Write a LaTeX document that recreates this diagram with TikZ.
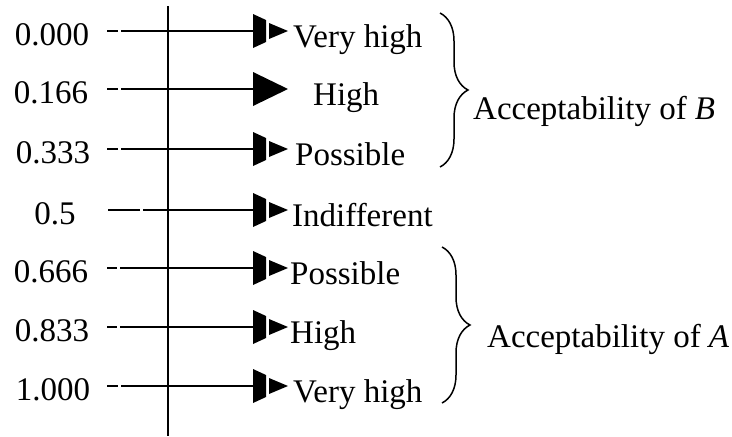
\documentclass[tikz,border=0pt]{standalone}
\usepackage{fontspec}
\setmainfont{Liberation Serif}
\usetikzlibrary{decorations.pathreplacing}
\begin{document}
\begin{tikzpicture}[x=1pt,y=-1pt,
  txt/.style={font=\fontsize{33}{36}\selectfont, inner sep=0pt},
  num/.style={txt, anchor=base},
  lab/.style={txt, anchor=base west},
  ln/.style={line width=1.9pt},
  vl/.style={line width=1.8pt},
  brc/.style={line width=1.5pt, decorate, decoration={brace, amplitude=28pt}},
  pics/dtip/.style={code={
    \fill (0,-17) -- (13,-11) -- (13,11) -- (0,17) -- cycle;
    \fill (16,-8) -- (35,0) -- (16,8) -- cycle;}},
  pics/stip/.style={code={
    \fill (0,-17) -- (35,0) -- (0,17) -- cycle;}}
]
\useasboundingbox (0,0) rectangle (732,437);
% vertical axis
\coordinate (v1) at (168,6);
\coordinate (v2) at (168,436);
\draw[vl] (v1) -- (v2);
% rows
\foreach \i/\y/\num/\nx/\lab/\lx/\ds/\de/\ls/\tp in {
  1/31/0.000/52/Very high/293/107/118/121/dtip,
  2/89/0.166/51/High/313/107/118/121/stip,
  3/149/0.333/53/Possible/295/107/118/121/dtip,
  4/210/0.5/55/Indifferent/292/108/140/143/dtip,
  5/268/0.666/51/Possible/290/107/117/120/dtip,
  6/327/0.833/52/High/290/107/117/120/dtip,
  7/386/1.000/53/Very high/293/107/118/121/dtip}{
  \node[num] (n\i) at (\nx,\y+14) {\num};
  \coordinate (a\i) at (\ds,\y);
  \coordinate (b\i) at (\de,\y);
  \coordinate (c\i) at (\ls,\y);
  \coordinate (e\i) at (253,\y);
  \draw[ln] (a\i) -- (b\i);
  \draw[ln] (c\i) -- (e\i);
  \pic at (e\i) {\tp};
  \node[lab] (l\i) at (\lx,\y+16) {\lab};
}
% braces
\coordinate (bB1) at (440,13);
\coordinate (bB2) at (440,167);
\draw[brc] (bB1) -- (bB2);
\node[lab] (accB) at (473,119) {Acceptability of \textit{B}};
\coordinate (bA1) at (442,247);
\coordinate (bA2) at (442,403);
\draw[brc] (bA1) -- (bA2);
\node[lab] (accA) at (487,347) {Acceptability of \textit{A}};
\end{tikzpicture}
\end{document}
